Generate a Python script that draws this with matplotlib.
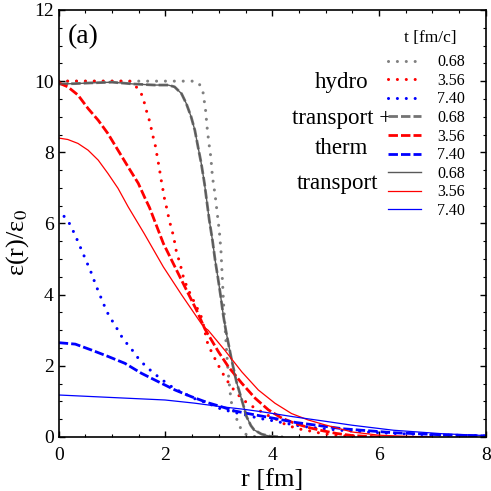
import matplotlib
matplotlib.use("Agg")
import matplotlib.pyplot as plt
from matplotlib.ticker import MultipleLocator

plt.rcParams['font.family'] = 'serif'
plt.rcParams['font.serif'] = ['Liberation Serif']
plt.rcParams['mathtext.fontset'] = 'stix'

# --- data: r [fm] and eps(r)/eps0
# hydro
r_h068 = [0.0, 1.0, 2.0, 2.55, 2.63, 2.70, 2.75, 2.78, 2.81, 2.85, 2.88, 2.93, 2.97, 3.01, 3.04,
          3.06, 3.09, 3.12, 3.15, 3.18, 3.21, 3.25, 3.33, 3.41, 3.50, 3.60, 3.80]
e_h068 = [10.0, 10.0, 10.0, 10.0, 9.93, 9.72, 9.2, 8.7, 8.3, 7.86, 7.31, 6.80, 6.28, 5.77, 5.22,
          4.6, 3.7, 3.0, 2.3, 1.74, 1.27, 0.81, 0.52, 0.24, 0.08, 0.02, 0.0]
r_h356 = [0.0, 0.5, 1.0, 1.33, 1.48, 1.58, 1.62, 1.67, 1.72, 1.75, 1.80, 1.83, 1.86, 1.89, 1.92,
          1.95, 1.98, 2.02, 2.06, 2.10, 2.15, 2.21, 2.27, 2.31, 2.35, 2.43, 2.52, 2.58, 2.66, 2.71,
          2.79, 2.86, 2.94, 3.02, 3.11, 3.21, 3.33, 3.46, 3.58, 3.74, 3.90, 4.05, 4.21, 4.36, 4.55,
          4.74, 4.96, 5.27, 5.6, 6.0]
e_h356 = [10.0, 10.0, 10.0, 10.0, 9.80, 9.56, 9.28, 9.04, 8.78, 8.53, 8.27, 8.01, 7.76, 7.50, 7.22,
          6.97, 6.71, 6.45, 6.17, 5.92, 5.65, 5.16, 4.90, 4.64, 4.41, 4.13, 3.85, 3.66, 3.43, 3.15,
          2.63, 2.40, 2.16, 1.93, 1.69, 1.46, 1.23, 1.04, 0.90, 0.76, 0.62, 0.52, 0.38, 0.29, 0.21,
          0.16, 0.09, 0.04, 0.01, 0.0]
r_h740 = [0.1, 0.2, 0.3, 0.4, 0.5, 0.6, 0.7, 0.84, 0.91, 1.00, 1.09, 1.18, 1.29, 1.40, 1.50, 1.63,
          1.76, 1.90, 2.05, 2.19, 2.37, 2.52, 2.68, 2.87, 3.05, 3.27, 3.49, 3.77, 3.93, 4.27, 4.52,
          4.77, 5.27, 5.77, 6.27, 7.0, 8.0]
e_h740 = [6.2, 6.0, 5.7, 5.35, 5.0, 4.65, 4.25, 3.74, 3.50, 3.27, 3.05, 2.82, 2.60, 2.40, 2.19, 1.99,
          1.82, 1.65, 1.48, 1.34, 1.21, 1.09, 1.01, 0.90, 0.78, 0.70, 0.62, 0.52, 0.48, 0.38, 0.31,
          0.26, 0.19, 0.14, 0.10, 0.06, 0.03]

# transport + therm
r_tt068 = [0.0, 0.3, 0.6, 1.0, 1.4, 1.8, 2.05, 2.17, 2.30, 2.39, 2.48, 2.55, 2.61, 2.67, 2.73, 2.78,
           2.82, 2.88, 2.93, 2.98, 3.03, 3.08, 3.13, 3.24, 3.33, 3.43, 3.52, 3.60, 3.66, 3.80, 3.96, 4.2]
e_tt068 = [9.92, 9.93, 9.95, 9.97, 9.92, 9.89, 9.89, 9.84, 9.65, 9.37, 9.0, 8.62, 8.15, 7.69, 7.13, 6.56,
           6.10, 5.53, 4.97, 4.5, 4.0, 3.45, 3.0, 2.16, 1.55, 1.04, 0.57, 0.32, 0.20, 0.08, 0.02, 0.0]
r_tt356 = [0.0, 0.17, 0.36, 0.55, 0.74, 0.92, 1.11, 1.30, 1.49, 1.62, 1.70, 1.96, 2.27, 2.58, 2.74,
           2.99, 3.18, 3.43, 3.68, 3.93, 4.18, 4.43, 4.67, 4.93, 5.2, 5.5, 6.0]
e_tt356 = [9.95, 9.84, 9.61, 9.23, 8.90, 8.53, 8.06, 7.59, 7.13, 6.70, 6.45, 5.44, 4.50, 3.57, 3.03,
           2.40, 1.97, 1.51, 1.09, 0.76, 0.53, 0.38, 0.27, 0.18, 0.10, 0.04, 0.0]
r_tt740 = [0.0, 0.31, 0.62, 0.93, 1.24, 1.55, 1.87, 2.18, 2.49, 2.80, 3.05, 3.30, 3.68, 4.05, 4.43,
           4.93, 5.33, 6.27, 7.2, 8.0]
e_tt740 = [2.65, 2.61, 2.44, 2.26, 2.07, 1.79, 1.55, 1.32, 1.13, 0.96, 0.85, 0.73, 0.62, 0.52, 0.41,
           0.31, 0.23, 0.12, 0.06, 0.03]

# transport
r_t068 = r_tt068
e_t068 = e_tt068
r_t356 = [0.0, 0.17, 0.36, 0.55, 0.74, 0.92, 1.11, 1.30, 1.60, 1.96, 2.30, 2.71, 2.80, 3.11, 3.43,
          3.74, 4.05, 4.36, 4.67, 4.99, 5.5, 6.0, 6.5, 7.0]
e_t356 = [8.40, 8.36, 8.25, 8.06, 7.78, 7.41, 6.99, 6.47, 5.72, 4.78, 4.0, 3.10, 3.0, 2.44, 1.83,
          1.32, 0.95, 0.66, 0.48, 0.34, 0.14, 0.05, 0.02, 0.0]
r_t740 = [0.0, 0.99, 1.99, 2.55, 3.05, 3.46, 3.80, 4.39, 5.0, 5.5, 6.27, 7.2, 8.0]
e_t740 = [1.18, 1.11, 1.04, 0.95, 0.85, 0.78, 0.71, 0.57, 0.44, 0.33, 0.19, 0.09, 0.04]

times = ['0.68', '3.56', '7.40']

fig = plt.figure(figsize=(4.91, 4.91), dpi=100)
ax = fig.add_axes([0.1196, 0.110, 0.8697, 0.8697])

dot = dict(ls=(0, (0.01, 2.9)), lw=2.2, dash_capstyle='round')
dash = dict(ls=(0, (3.4, 1.1)), lw=2.0)
thin = dict(ls='-', lw=0.9)

handles = []
handles += ax.plot(r_h068, e_h068, color='#808080', **dot)
handles += ax.plot(r_h356, e_h356, color='#ff0000', **dot)
handles += ax.plot(r_h740, e_h740, color='#0000ff', **dot)
handles += ax.plot(r_tt068, e_tt068, color='0.45', **dash)
handles += ax.plot(r_tt356, e_tt356, color='#ff0000', **dash)
handles += ax.plot(r_tt740, e_tt740, color='#0000ff', **dash)
handles += ax.plot(r_t068, e_t068, color='0.35', ls='-', lw=1.0)
handles += ax.plot(r_t356, e_t356, color='#ff0000', **thin)
handles += ax.plot(r_t740, e_t740, color='#0000ff', **thin)

ax.set_xlim(0, 8)
ax.set_ylim(0, 12)
ax.xaxis.set_major_locator(MultipleLocator(2))
ax.xaxis.set_minor_locator(MultipleLocator(0.5))
ax.yaxis.set_major_locator(MultipleLocator(2))
ax.yaxis.set_minor_locator(MultipleLocator(0.5))
ax.tick_params(which='both', direction='in', top=True, right=True, labelsize=14)
ax.tick_params(which='major', length=4, width=1.0)
ax.tick_params(which='minor', length=2, width=0.8)
ax.tick_params(axis='x', which='major', pad=7)
for s in ax.spines.values():
    s.set_linewidth(1.2)

ax.set_xlabel('r [fm]', fontsize=19, labelpad=4)
ax.set_ylabel('ε(r)/ε$_0$', fontsize=19)
ax.yaxis.set_label_coords(-0.065, 0.455)

ax.text(0.022, 0.937, '(a)', transform=ax.transAxes, fontsize=20, va='center', ha='left')

# legend: line samples + times, title written separately
leg = ax.legend(handles, times * 3, loc='upper left',
                bbox_to_anchor=(0.771, 0.896), frameon=False, fontsize=11.5,
                handlelength=2.1, handletextpad=1.0,
                labelspacing=0.16, borderpad=0, borderaxespad=0)
ax.text(0.870, 0.934, 't [fm/c]', transform=ax.transAxes, fontsize=12.5, ha='center', va='center')

ax.text(0.663, 0.830, 'hydro', transform=ax.transAxes, fontsize=16.5, ha='center', va='center')
ax.text(0.546, 0.745, 'transport +', transform=ax.transAxes, fontsize=16.5, ha='left', va='center')
ax.text(0.663, 0.675, 'therm', transform=ax.transAxes, fontsize=16.5, ha='center', va='center')
ax.text(0.653, 0.594, 'transport', transform=ax.transAxes, fontsize=16.5, ha='center', va='center')

fig.savefig('out.png', dpi=100)
